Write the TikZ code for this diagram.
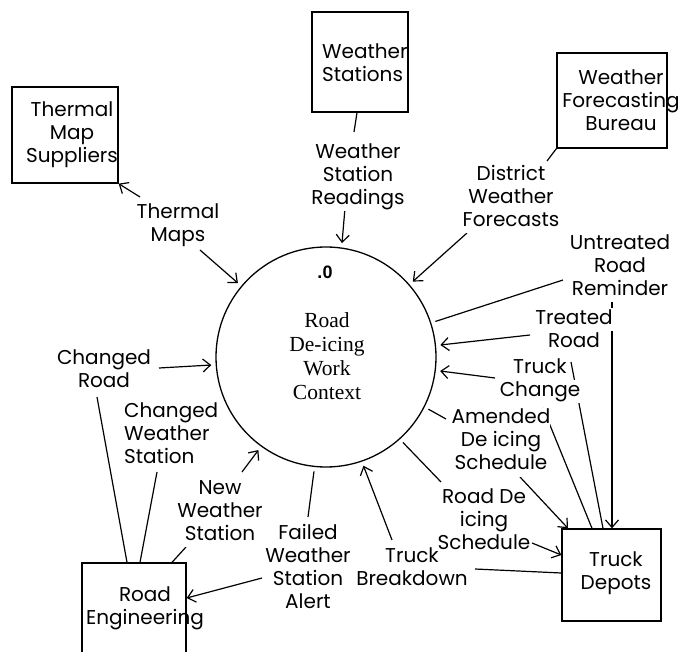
\documentclass[tikz,border=0pt]{standalone}
\usepackage{fontspec}
\setmainfont{Poppins}
\newfontfamily\circfont{Liberation Serif}
\newfontfamily\numfont{Liberation Sans}
\usetikzlibrary{arrows.meta}
\pgfdeclarelayer{bg}
\pgfsetlayers{bg,main}
\setlength\fboxsep{0pt}
\newcommand\wl[1]{\colorbox{white}{\strut #1}}
\begin{document}
\begin{tikzpicture}[x=1pt,y=-1pt,
  lbl/.style={inner sep=0pt, align=center, font=\fontsize{20}{23}\selectfont},
  ent/.style={draw, line width=1.3pt, inner sep=0pt},
  enttext/.style={inner sep=0pt, align=center, font=\fontsize{20}{23}\selectfont},
  flow/.style={line width=1.2pt},
  arr/.style={flow, -{Straight Barb[length=7.5pt,width=13pt]}}]
\path[use as bounding box] (0,0) rectangle (683,652);
\clip (0,0) rectangle (683,652);

% process
\node[circle, draw, line width=1.3pt, minimum size=220pt, outer sep=5pt, inner sep=0pt] (C) at (326,357) {};
\node[inner sep=0pt, font=\fontsize{18}{20}\numfont\bfseries] (C0) at (325,272) {.0};
\node[inner sep=0pt, align=center, font=\fontsize{21.5}{24}\circfont] (Ct) at (327,356) {Road\\De-icing\\Work\\Context};

% entities
\node[ent, minimum width=106pt, minimum height=96pt] (TMS) at (65,135) {};
\node[enttext] (TMSt) at (72,135) {Thermal\\Map\\Suppliers};
\node[ent, minimum width=96pt, minimum height=100pt] (WS) at (360,62) {};
\node[enttext, align=left, anchor=west] (WSt) at (322,63) {Weather\\Stations};
\node[ent, minimum width=110pt, minimum height=95pt] (WFB) at (612,100.5) {};
\node[enttext] (WFBt) at (621,100.5) {Weather\\Forecasting\\Bureau};
\node[ent, minimum width=104pt, minimum height=104pt] (RE) at (134,615) {};
\node[enttext] (REt) at (145,608.5) {Road\\Engineering};
\node[ent, minimum width=99pt, minimum height=92pt] (TD) at (611.5,575) {};
\node[enttext] (TDt) at (616,573) {Truck\\Depots};

% flow labels
\node[lbl] (L1) at (178,225.5) {\wl{Thermal}\\\wl{Maps}};
\node[lbl] (L2) at (358,176.5) {\wl{Weather}\\\wl{Station}\\\wl{Readings}};
\node[lbl] (L3) at (511,198.5) {\wl{District}\\\wl{Weather}\\\wl{Forecasts}};
\node[lbl] (L4) at (620,268) {\wl{Untreated}\\\wl{Road}\\\wl{Reminder}};
\node[lbl] (L5) at (574,331.5) {\wl{Treated}\\\wl{Road}};
\node[lbl] (L6) at (540,380.5) {\wl{Truck}\\\wl{Change}};
\node[lbl] (L7) at (501,442) {\wl{Amended}\\\wl{De icing}\\\wl{Schedule}};
\node[lbl] (L8) at (484,521.5) {\wl{Road De}\\\wl{icing}\\\wl{Schedule}};
\node[lbl] (L9) at (412,569) {\wl{Truck}\\\wl{Breakdown}};
\node[lbl] (L10) at (308,569) {\wl{Failed}\\\wl{Weather}\\\wl{Station}\\\wl{Alert}};
\node[lbl] (L11) at (220,512.5) {\wl{New}\\\wl{Weather}\\\wl{Station}};
\node[lbl, align=left, anchor=west] (L12) at (124,436) {\wl{Changed}\\\wl{Weather}\\\wl{Station}};
\node[lbl] (L13) at (104,371) {\wl{Changed}\\\wl{Road}};

\begin{pgfonlayer}{bg}
% Thermal Maps
\draw[arr] ([shift={(-38,-28.5)}]L1.center) -- (TMS.south east);
\draw[arr] ([shift={(22,24.5)}]L1.center) -- (C.140);
% Weather Station Readings
\draw[flow] ([xshift=-3pt]WS.south) -- ([shift={(-4,-44.5)}]L2.center);
\draw[arr] ([shift={(-13,31.5)}]L2.center) -- (C.82);
% District Weather Forecasts
\draw[flow] (WFB.south west) -- ([shift={(36,-37.5)}]L3.center);
\draw[arr] ([shift={(-44,34.5)}]L3.center) -- (C.41);
% Untreated Road Reminder
\draw[flow] (C.18) -- ([shift={(-57,12)}]L4.center);
\draw[arr] ([shift={(-8,34)}]L4.center) -- ([xshift=0.5pt]TD.north);
% Treated Road
\draw[arr] ([shift={(-44,3.5)}]L5.center) -- (C.6);
\draw[flow] ([xshift=-8.5pt]TD.north) -- ([shift={(-3,30.5)}]L5.center);
% Truck Change
\draw[arr] ([shift={(-45,-2.5)}]L6.center) -- (C.-7);
\draw[flow] ([xshift=-19.5pt]TD.north) -- ([shift={(3,27.5)}]L6.center);
% Amended De icing Schedule
\draw[flow] (C.-27) -- ([shift={(-55,-23)}]L7.center);
\draw[arr] ([shift={(19,35)}]L7.center) -- ([xshift=-43.5pt]TD.north);
% Road De icing Schedule
\draw[flow] (C.-48) -- ([shift={(-43,-39.5)}]L8.center);
\draw[arr] ([shift={(48,21.5)}]L8.center) -- ([yshift=20pt]TD.west);
% Truck Breakdown
\draw[flow] ([yshift=2pt]TD.west) -- ([shift={(63,0)}]L9.center);
\draw[arr] ([shift={(-20,-29)}]L9.center) -- (C.-71);
% Failed Weather Station Alert
\draw[flow] (C.-96) -- ([shift={(0,-52)}]L10.center);
\draw[arr] ([shift={(-46,9)}]L10.center) -- ([yshift=17pt]RE.east);
% New Weather Station
\draw[arr] ([shift={(22,-40.5)}]L11.center) -- (C.234);
\draw[flow] ([shift={(-34,34.5)}]L11.center) -- ([xshift=38pt]RE.north);
% Changed Weather Station
\draw[flow] ([shift={(33,36)}]L12.west) -- ([xshift=6pt]RE.north);
% Changed Road
\draw[arr] ([shift={(55,-3)}]L13.center) -- (C.184);
\draw[flow] ([shift={(-7,26)}]L13.center) -- ([xshift=-7pt]RE.north);
\end{pgfonlayer}
\end{tikzpicture}
\end{document}
